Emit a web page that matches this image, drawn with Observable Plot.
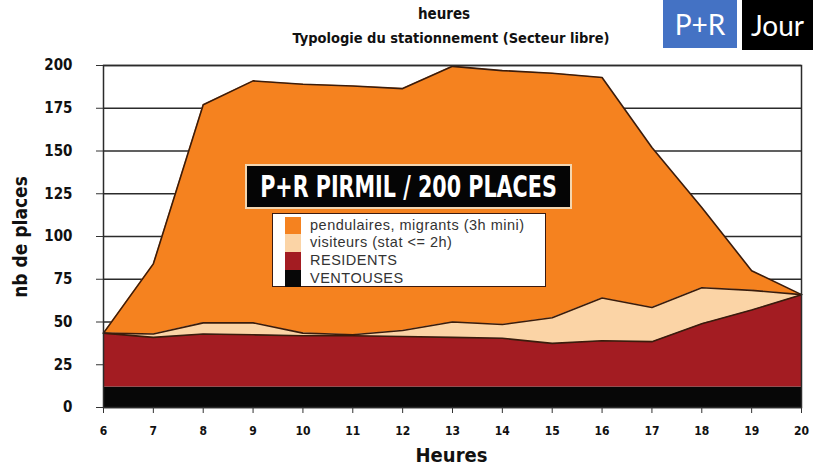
<!DOCTYPE html>
<html>
<head>
<meta charset="utf-8">
<script src="https://cdn.jsdelivr.net/npm/d3@7"></script>
<script src="https://cdn.jsdelivr.net/npm/@observablehq/plot@0.6"></script>
<style>
  html, body { margin: 0; padding: 0; background: #fff; }
  #wrap { position: relative; width: 813px; height: 473px; overflow: hidden; background: #fff; }
  .abs { position: absolute; }
  .narrow { font-family: "Liberation Sans Narrow", "DejaVu Sans Condensed", "Liberation Sans", sans-serif; }
  #t1 { left: 0; width: 888px; top: 5px; text-align: center; font-weight: bold; font-size: 15px; color: #111; }
  #t2 { left: 0; width: 902px; top: 30px; text-align: center; font-weight: bold; font-size: 14.5px; color: #111; }
  .badge { top: 0; color: #fff; font-family: Lato, "Open Sans", sans-serif; font-size: 28px; text-align: center; }
  #pr { left: 663px; width: 74px; height: 48px; line-height: 48px; background: #4472C4; }
  #jour { left: 742px; width: 71px; height: 50px; line-height: 50px; background: #000; }
  #plot { left: 0; top: 50px; }
  #ylab { left: 20px; top: 237px; transform: translate(-50%, -50%) rotate(-90deg); font-weight: bold; font-size: 19px; color: #111; white-space: nowrap; }
  #xlab { left: 0; width: 903px; top: 443px; text-align: center; font-weight: bold; font-size: 20px; color: #111; }
  #banner { left: 245px; top: 164px; width: 323px; height: 41px; background: #050505; border: 2px solid #f3d6b0; }
  #legend { left: 272px; top: 213px; width: 272px; height: 72px; background: #fff; border: 1.5px solid #3a1a10; }
  .sw { position: absolute; left: 12px; width: 16px; }
  .lt { position: absolute; left: 37px; font-family: "Liberation Sans", Arial, sans-serif; font-size: 14.5px; letter-spacing: 0.5px; color: #333; white-space: nowrap; line-height: 15px; }
</style>
</head>
<body>
<div id="wrap">
  <div id="t1" class="abs narrow">heures</div>
  <div id="t2" class="abs narrow">Typologie du stationnement (Secteur libre)</div>
  <div id="pr" class="abs badge">P+R</div>
  <div id="jour" class="abs badge">Jour</div>
  <div id="plot" class="abs"></div>
  <div id="ylab" class="abs narrow">nb de places</div>
  <div id="xlab" class="abs narrow">Heures</div>
  <div id="banner" class="abs">
    <svg width="323" height="41">
      <text transform="translate(161.5,31) scale(1,1.3)" text-anchor="middle" fill="#fff" font-family="DejaVu Sans Condensed, DejaVu Sans, sans-serif" font-weight="bold" font-size="23">P+R PIRMIL / 200 PLACES</text>
    </svg>
  </div>
  <div id="legend" class="abs"></div>
</div>
<script>
// ---- data ----
const hours = [6, 7, 8, 9, 10, 11, 12, 13, 14, 15, 16, 17, 18, 19, 20];
const seriesNames = ["VENTOUSES", "RESIDENTS", "visiteurs (stat <= 2h)", "pendulaires, migrants (3h mini)"];
const ventouses   = [12, 12, 12, 12, 12, 12, 12, 12, 12, 12, 12, 12, 12, 12, 12];
const residents   = [31.5, 29, 31, 30.5, 30, 30, 29.5, 29, 28.5, 25.5, 27, 26.5, 37, 45, 54];
const visiteurs   = [0, 2, 6.5, 7, 1.5, 0.5, 3.5, 9, 8, 15, 25, 20, 21, 11.5, 0];
const pendulaires = [0, 41, 127.5, 141.5, 145.5, 145.5, 141.5, 149.5, 148.5, 143, 129, 93.5, 47, 11.5, 0];
const seriesColors = ["#070707", "#A31C22", "#FBD4A6", "#F5821F"];
const yTicks = [0, 25, 50, 75, 100, 125, 150, 175, 200];
const legendOrder = ["pendulaires, migrants (3h mini)", "visiteurs (stat <= 2h)", "RESIDENTS", "VENTOUSES"];

// ---- build stacked table ----
const seriesValues = [ventouses, residents, visiteurs, pendulaires];
const table = [];
hours.forEach((h, i) => {
  let acc = 0;
  seriesNames.forEach((s, k) => {
    const v = seriesValues[k][i];
    table.push({hour: h, series: s, y1: acc, y2: acc + v});
    acc += v;
  });
});

const font = '"Liberation Sans Narrow", "DejaVu Sans Condensed", "Liberation Sans", sans-serif';

const chart = Plot.plot({
  width: 813,
  height: 423,
  marginTop: 15,
  marginBottom: 66,
  marginLeft: 103,
  marginRight: 12,
  style: {fontFamily: font, color: "#111", background: "transparent"},
  x: {domain: [6, 20]},
  y: {domain: [0, 200]},
  color: {domain: seriesNames, range: seriesColors},
  marks: [
    Plot.ruleY(yTicks, {stroke: "#2b2b2b", strokeWidth: 1.5}),
    Plot.areaY(table, {x: "hour", y1: "y1", y2: "y2", fill: "series", z: "series", curve: "linear"}),
    Plot.lineY(table.filter(d => d.series !== "VENTOUSES"), {x: "hour", y: "y2", z: "series", stroke: "#3a1c0c", strokeWidth: 1.6}),
    Plot.frame({stroke: "#2b2b2b", strokeWidth: 1.5}),
    Plot.axisY(yTicks, {label: null, tickSize: 7, tickPadding: 24, fontSize: 15, fontWeight: "bold", stroke: "#333"}),
    Plot.axisX(hours, {label: null, tickSize: 6, tickPadding: 13, fontSize: 12, fontWeight: "bold", stroke: "#333"})
  ]
});
document.getElementById("plot").appendChild(chart);

// ---- legend ----
const legend = document.getElementById("legend");
const rowTops = [3, 20, 38, 56];
const rowH = [17, 18, 18, 17];
legendOrder.forEach((name, i) => {
  const sw = document.createElement("div");
  sw.className = "sw";
  sw.style.top = rowTops[i] + "px";
  sw.style.height = rowH[i] + "px";
  sw.style.background = seriesColors[seriesNames.indexOf(name)];
  legend.appendChild(sw);
  const lt = document.createElement("div");
  lt.className = "lt";
  lt.style.top = (rowTops[i] + 1) + "px";
  lt.textContent = name;
  legend.appendChild(lt);
});
</script>
</body>
</html>
